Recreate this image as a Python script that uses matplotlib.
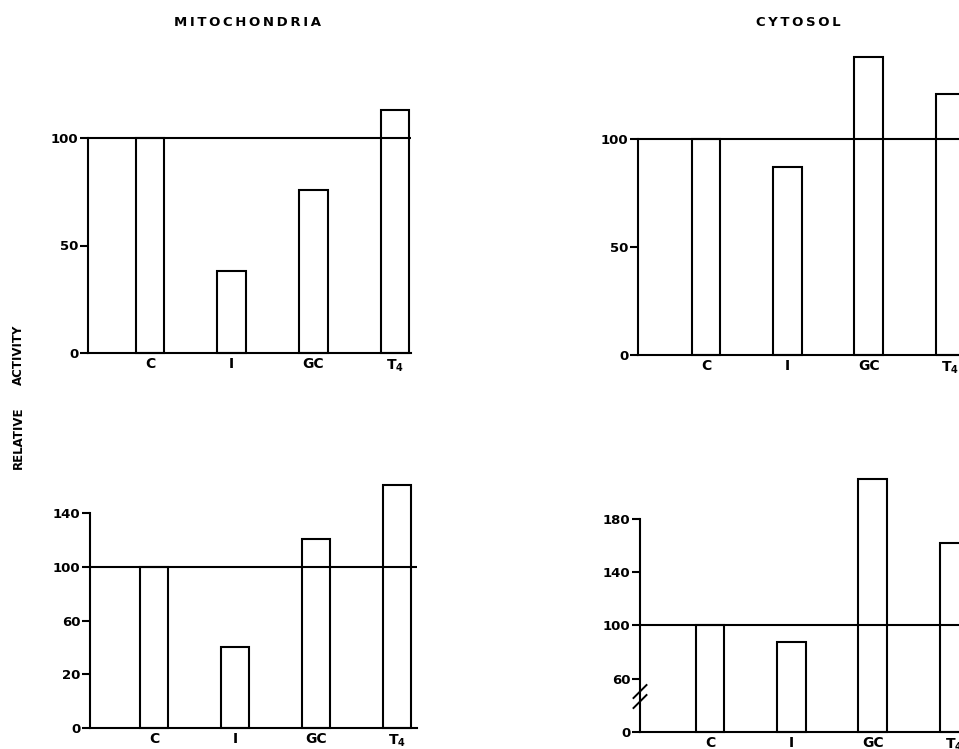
import numpy as np
import matplotlib
matplotlib.use('Agg')
import matplotlib.pyplot as plt

plt.rcParams['font.family'] = ['DejaVu Sans']
plt.rcParams['font.weight'] = 'bold'
plt.rcParams['mathtext.fontset'] = 'dejavusans'

# grupos experimentales
grupos = ['C', 'I', 'GC', r'$\mathbf{T_4}$']

# actividad relativa (control = 100)
mito_a = [100, 38, 76, 113]
mito_b = [100, 40, 121, 161]
cito_a = [100, 87, 138, 121]
cito_b = [100, 87.5, 210, 162]

ticks_mito_a = [0, 50, 100]
ticks_mito_b = [-20, 20, 60, 100, 140]
etiq_mito_b = ['0', '20', '60', '100', '140']
ticks_cito_a = [0, 50, 100]
ticks_cito_b = [20, 60, 100, 140, 180]
etiq_cito_b = ['0', '60', '100', '140', '180']

W, H = 959, 749
fig = plt.figure(figsize=(W/100, H/100), dpi=100)
lw = 1.5


def panel(eje_x, fin_x, base_y, ppu, base, tope, centros, valores, ticks, etiquetas):
    # eje en pixeles de la figura
    sp = (centros[-1]-centros[0])/3.0
    ymax = base + (base_y - 40)/ppu
    alto = (ymax-base)*ppu
    ax = fig.add_axes([eje_x/W, 1-base_y/H, (fin_x-eje_x)/W, alto/H])
    ax.patch.set_visible(False)
    ax.set_xlim((eje_x-centros[0])/sp, (fin_x-centros[0])/sp)
    ax.set_ylim(base, ymax)
    x = np.arange(len(valores))
    alturas = [v-base for v in valores]
    ax.bar(x, alturas, bottom=base, width=0.35, fill=False,
           edgecolor='black', linewidth=lw, clip_on=False)
    ax.axhline(100, color='black', linewidth=lw)
    for s in ['top', 'right']:
        ax.spines[s].set_visible(False)
    ax.spines['left'].set_bounds(base, tope)
    ax.spines['left'].set_linewidth(lw)
    ax.spines['bottom'].set_linewidth(lw)
    ax.set_yticks(ticks)
    ax.set_yticklabels(etiquetas, fontsize=9.5)
    ax.tick_params(axis='y', length=6, width=lw, pad=1)
    ax.set_xticks(x)
    ax.set_xticklabels(grupos, fontsize=10)
    ax.tick_params(axis='x', length=0, pad=3)
    return ax, sp


panel(88, 411, 353, 2.15, 0, 100, [150, 233, 315, 395], mito_a,
      ticks_mito_a, [str(t) for t in ticks_mito_a])
panel(90, 417, 728, 53.7/40, -20, 140, [154, 235.5, 316, 397], mito_b,
      ticks_mito_b, etiq_mito_b)
panel(638, 1000, 355, 2.16, 0, 100, [706, 788, 868, 950], cito_a,
      ticks_cito_a, [str(t) for t in ticks_cito_a])
ax4, sp4 = panel(640, 1000, 732, 53.3/40, 20, 180, [710, 792, 872, 954], cito_b,
                 ticks_cito_b, etiq_cito_b)

# corte del eje y (dos barras oblicuas)
trans = ax4.get_yaxis_transform()
dx = 6.5/(1000-640)
for y0 in [38, 45.5]:
    ax4.plot([-dx, dx], [y0, y0+9.75], color='black', linewidth=1.4,
             transform=trans, clip_on=False)

esp = '\u2009'
fig.text(247/W, 1-23/H, esp.join('MITOCHONDRIA'), ha='center', va='center',
         fontsize=9.5, fontweight='bold')
fig.text(798/W, 1-23/H, esp.join('CYTOSOL'), ha='center', va='center',
         fontsize=9.5, fontweight='bold')
fig.text(18/W, 1-355/H, 'ACTIVITY', rotation=90, ha='center', va='center',
         fontsize=8.5, fontweight='bold')
fig.text(18/W, 1-438/H, 'RELATIVE', rotation=90, ha='center', va='center',
         fontsize=8.5, fontweight='bold')

plt.savefig('out.png', dpi=100)
